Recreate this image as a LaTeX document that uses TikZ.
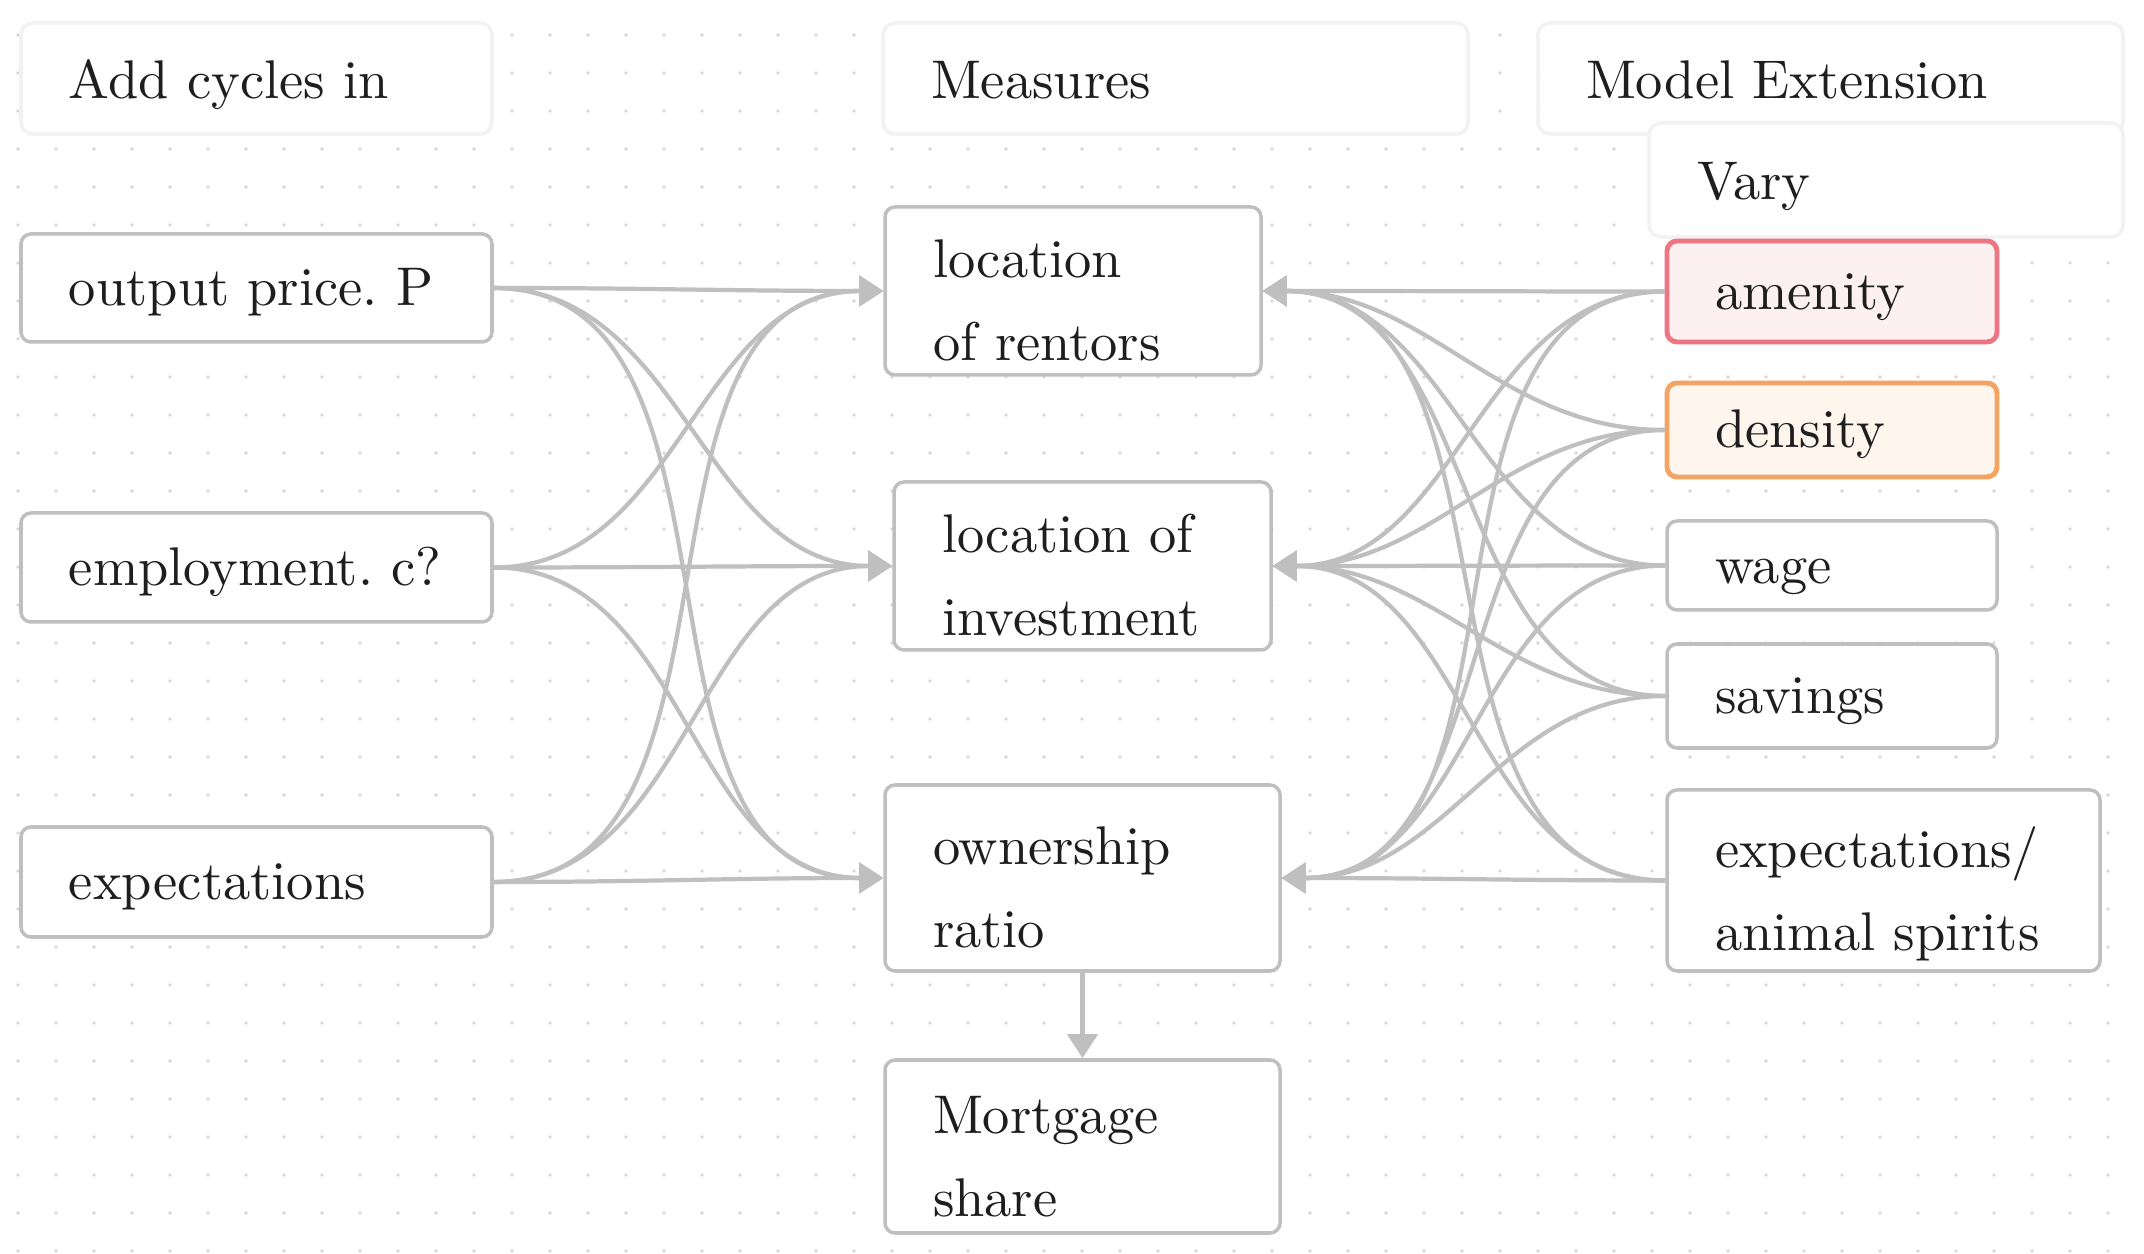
\documentclass[tikz,border=0pt]{standalone}
\usepackage{fontspec}
\setmainfont{lmroman10-regular.otf}
\usetikzlibrary{arrows.meta,shadows}
\definecolor{linegray}{RGB}{191,191,191}
\definecolor{dotgray}{RGB}{216,216,216}
\definecolor{ink}{RGB}{30,30,30}
\definecolor{amenline}{RGB}{239,117,131}
\definecolor{amenfill}{RGB}{253,240,241}
\definecolor{densline}{RGB}{243,163,98}
\definecolor{densfill}{RGB}{254,245,236}
\tikzset{
  box/.style = {draw=linegray, line width=1pt, rounded corners=0.1cm, fill=white,
                inner xsep=0.48cm, inner ysep=0pt, align=left, text=ink,
                font=\fontsize{15.5}{23.6}\selectfont\frenchspacing},
  oneline/.style = {box, text height=0.47cm, text depth=0.11cm},
  twoline/.style = {box, text height=0.40cm, text depth=0.66cm},
  head/.style = {oneline, draw=black!5, rounded corners=0.12cm, text height=0.5cm, text depth=0.1cm,
                 drop shadow={shadow xshift=0pt, shadow yshift=-0.02cm, opacity=0.06}},
  link/.style = {draw=linegray, line width=1.2pt, -{Triangle[length=0.24cm,width=0.3cm]}}
}
\begin{document}
\begin{tikzpicture}
    \useasboundingbox (0,0) rectangle (21.44,-12.54);
    \fill[white] (0,0) rectangle (21.44,-12.54);
    \foreach \i in {0,...,56} {
        \foreach \j in {0,...,32} {
            \fill[dotgray] (0.18+0.38*\i,-0.35-0.38*\j) circle (0.018);
        }
    }

    \node[head, minimum width=4.71cm, minimum height=1.11cm, text width=3.75cm] (cycles) at (2.565,-0.785) {Add cycles in};
    \node[head, minimum width=5.85cm, minimum height=1.11cm, text width=4.89cm] (measures) at (11.755,-0.785) {Measures};
    \node[head, minimum width=5.85cm, minimum height=1.11cm, text width=4.89cm] (extension) at (18.305,-0.785) {Model Extension};
    \node[head, minimum width=4.74cm, minimum height=1.14cm, text width=3.78cm] (vary) at (18.86,-1.80) {Vary};

    \node[oneline, minimum width=4.71cm, minimum height=1.08cm, text width=3.75cm] (price) at (2.565,-2.88) {output price.~P};
    \node[oneline, minimum width=4.71cm, minimum height=1.09cm, text width=3.75cm] (employ) at (2.565,-5.675) {employment.~c?};
    \node[oneline, minimum width=4.71cm, minimum height=1.10cm, text width=3.75cm] (expect) at (2.565,-8.82) {expectations};

    \node[twoline, minimum width=3.76cm, minimum height=1.68cm, text width=2.80cm] (rent) at (10.73,-2.91) {location\\of rentors};
    \node[twoline, minimum width=3.77cm, minimum height=1.68cm, text width=2.81cm] (invest) at (10.825,-5.66) {location of\\investment};
    \node[twoline, minimum width=3.95cm, minimum height=1.86cm, text width=2.99cm] (own) at (10.825,-8.78) {ownership\\ratio};
    \node[twoline, minimum width=3.95cm, minimum height=1.73cm, text width=2.99cm] (mort) at (10.825,-11.465) {Mortgage\\share};

    \node[oneline, draw=amenline, fill=amenfill, line width=1.4pt, minimum width=3.30cm, minimum height=1.01cm, text width=2.34cm] (amen) at (18.32,-2.915) {amenity};
    \node[oneline, draw=densline, fill=densfill, line width=1.4pt, minimum width=3.30cm, minimum height=0.94cm, text width=2.34cm] (dens) at (18.32,-4.30) {density};
    \node[oneline, minimum width=3.30cm, minimum height=0.89cm, text width=2.34cm] (wage) at (18.32,-5.655) {wage};
    \node[oneline, minimum width=3.30cm, minimum height=1.04cm, text width=2.34cm] (sav) at (18.32,-6.96) {savings};
    \node[twoline, minimum width=4.33cm, minimum height=1.81cm, text width=3.37cm] (spirit) at (18.835,-8.805) {expectations/\\animal spirits};

    \foreach \s in {price,employ,expect} {
        \foreach \t in {rent,invest,own} {
            \draw[link] (\s.east) to[out=0,in=180] (\t.west);
        }
    }
    \foreach \s in {amen,dens,wage,sav,spirit} {
        \foreach \t in {rent,invest,own} {
            \draw[link] (\s.west) to[out=180,in=0] (\t.east);
        }
    }
    \draw[link] (own.south) -- (mort.north);
\end{tikzpicture}
\end{document}
